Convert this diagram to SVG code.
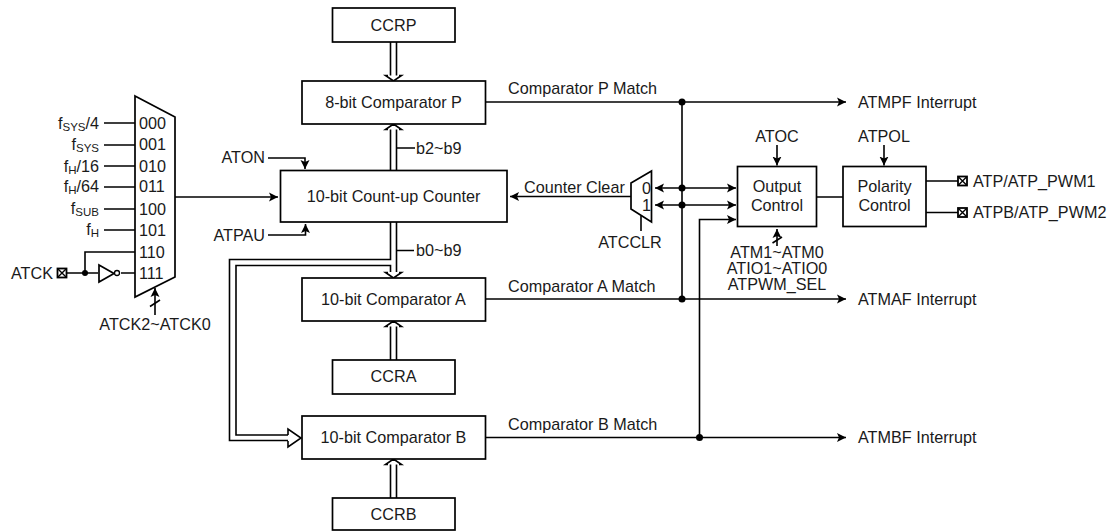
<svg xmlns="http://www.w3.org/2000/svg" width="1112" height="531" viewBox="0 0 1112 531">
<style>
text{font-family:"Liberation Sans",Arial,sans-serif;font-size:16.2px;fill:#1a1a1a}
.m{text-anchor:middle}
.r{text-anchor:end}
.b{fill:#fff;stroke:#000;stroke-width:1.7}
.l{fill:none;stroke:#000;stroke-width:1.6}
.s{font-size:11.5px}
.h{fill:#fff;stroke:#000;stroke-width:1.6}
</style>
<defs>
<marker id="a" markerUnits="userSpaceOnUse" markerWidth="10" markerHeight="10" refX="9" refY="5" orient="auto"><path d="M0,0.5L9,5L0,9.500L2,5Z" fill="#000"/></marker>
<marker id="s" markerUnits="userSpaceOnUse" markerWidth="10" markerHeight="10" refX="9" refY="5" orient="auto-start-reverse"><path d="M0,0.5L9,5L0,9.500L2,5Z" fill="#000"/></marker>
<g id="pin"><rect x="-4.500" y="-4.500" width="9" height="9" fill="#fff" stroke="#000" stroke-width="1.800"/><path d="M-4,-4L4,4M4,-4L-4,4" stroke="#000" stroke-width="1.400"/></g>
</defs>
<g id="connectors">
<path class="l" d="M104,123H135M104,145H135M104,166H135M104,187H135M104,209H135M104,230H135M85,273V252H135M67,273H98M121,273H135"/>
<path class="l" marker-end="url(#a)" d="M175,197H278"/>
<path class="l" marker-end="url(#a)" d="M268,158H305V169"/>
<path class="l" marker-end="url(#a)" d="M268,235H305.500V224"/>
<path class="l" marker-end="url(#a)" d="M155,315V288"/>
<path class="l" d="M150,306.500L160,300"/>
<path class="l" d="M390.500,42V76M396.500,42V76M390.500,360V326M396.500,360V326M390.500,498V464M396.500,498V464M390.500,170V129M396.500,170V129M396.500,222V272M390.500,222V259.500H229.500V440.500H288M390.500,272V265.500H236V435H288"/>
<path class="h" d="M388,75.500H385.500L393.500,81L401.500,75.500H399" />
<path class="h" d="M388,129.500H385.500L393.500,124L401.500,129.500H399"/>
<path class="h" d="M388,272.500H385.500L393.500,278L401.500,272.500H399"/>
<path class="h" d="M388,326.500H385.500L393.500,321L401.500,326.500H399"/>
<path class="h" d="M388,464.500H385.500L393.500,459L401.500,464.500H399"/>
<path class="h" d="M288,435V429L301,438L288,447V441"/>
<path class="l" d="M397,148H415M397,250.500H414"/>
<path class="l" marker-end="url(#a)" d="M486,102H846"/>
<path class="l" marker-end="url(#a)" d="M486,299H846"/>
<path class="l" marker-end="url(#a)" d="M486,437.500H846"/>
<path class="l" d="M682,102V299"/>
<path class="l" marker-start="url(#s)" marker-end="url(#s)" d="M655,188H736"/>
<path class="l" marker-start="url(#s)" marker-end="url(#s)" d="M655,205H736"/>
<path class="l" marker-end="url(#a)" d="M699.500,437.500V219.500H736"/>
<path class="l" marker-end="url(#a)" d="M631,196.500H510"/>
<path class="l" d="M641,216V231"/>
<path class="l" marker-end="url(#a)" d="M777,145V165.500"/>
<path class="l" marker-end="url(#a)" d="M884,145V165.500"/>
<path class="l" marker-end="url(#a)" d="M777,246V229"/>
<path class="l" d="M772.500,243L782,237"/>
<path class="l" d="M817,197H843M926,181H958M926,212.500H958"/>
<circle cx="85" cy="273" r="3"/>
<circle cx="682" cy="102" r="3.500"/>
<circle cx="682" cy="188" r="3.500"/>
<circle cx="682" cy="205" r="3.500"/>
<circle cx="682" cy="299" r="3.500"/>
<circle cx="699.500" cy="437.500" r="3.500"/>
</g>
<g id="clock-mux">
<path class="b" d="M135,96L175,117V277L135,297Z"/>
<text x="139" y="129">000</text><text x="139" y="150">001</text><text x="139" y="172">010</text><text x="139" y="192">011</text><text x="139" y="215">100</text><text x="139" y="236">101</text><text x="139" y="258">110</text><text x="139" y="279">111</text>
<text x="99" y="129" class="r">f<tspan class="s" dy="2">SYS</tspan><tspan dy="-2">/4</tspan></text>
<text x="99" y="150" class="r">f<tspan class="s" dy="2">SYS</tspan></text>
<text x="99" y="172" class="r">f<tspan class="s" dy="2">H</tspan><tspan dy="-2">/16</tspan></text>
<text x="99" y="192" class="r">f<tspan class="s" dy="2">H</tspan><tspan dy="-2">/64</tspan></text>
<text x="99" y="214" class="r">f<tspan class="s" dy="2">SUB</tspan></text>
<text x="99" y="235" class="r">f<tspan class="s" dy="2">H</tspan></text>
</g>
<g id="atck"><text x="53" y="279" class="r">ATCK</text><use href="#pin" x="62" y="273"/></g>
<g id="inverter"><path class="b" d="M99,265L114,273.500L99,282Z"/><circle cx="117" cy="273" r="2.500" fill="#fff" stroke="#000" stroke-width="1.300"/></g>
<g id="atck-sel"><text x="155" y="330" class="m">ATCK2~ATCK0</text></g>
<g id="aton"><text x="265" y="163" class="r">ATON</text></g>
<g id="atpau"><text x="265" y="241" class="r">ATPAU</text></g>
<g id="ccrp"><rect class="b" x="332.500" y="8" width="122.500" height="34"/><text x="393.500" y="31" class="m">CCRP</text></g>
<g id="comparator-p"><rect class="b" x="302" y="81" width="183.500" height="43"/><text x="393.500" y="108" class="m">8-bit Comparator P</text></g>
<g id="counter"><rect class="b" x="280.500" y="170.500" width="226.500" height="51.500"/><text x="393.500" y="202" class="m">10-bit Count-up Counter</text></g>
<g id="comparator-a"><rect class="b" x="302" y="278" width="183.500" height="43"/><text x="393.500" y="305" class="m">10-bit Comparator A</text></g>
<g id="ccra"><rect class="b" x="332.500" y="360" width="122.500" height="34"/><text x="393.500" y="382" class="m">CCRA</text></g>
<g id="comparator-b"><rect class="b" x="302" y="416" width="183.500" height="43"/><text x="393.500" y="443" class="m">10-bit Comparator B</text></g>
<g id="ccrb"><rect class="b" x="332.500" y="498" width="122.500" height="32"/><text x="393.500" y="520" class="m">CCRB</text></g>
<g id="bus-labels"><text x="416" y="154">b2~b9</text><text x="416" y="256">b0~b9</text></g>
<g id="match-labels"><text x="508" y="94">Comparator P Match</text><text x="508" y="292">Comparator A Match</text><text x="508" y="430">Comparator B Match</text><text x="524" y="193">Counter Clear</text></g>
<g id="clear-mux"><path class="b" d="M631,183L651.500,171V222L631,209Z"/><text x="642" y="194">0</text><text x="642" y="211">1</text><text x="630" y="248" class="m">ATCCLR</text></g>
<g id="output-control"><rect class="b" x="737.500" y="166.500" width="79" height="60"/><text x="777" y="192" class="m">Output</text><text x="777" y="211" class="m">Control</text></g>
<g id="atoc"><text x="777" y="142" class="m">ATOC</text></g>
<g id="output-sel"><text x="777" y="258" class="m">ATM1~ATM0</text><text x="777" y="274" class="m">ATIO1~ATIO0</text><text x="777" y="290" class="m">ATPWM_SEL</text></g>
<g id="polarity-control"><rect class="b" x="843" y="166.500" width="83" height="60"/><text x="884.500" y="192" class="m">Polarity</text><text x="884.500" y="211" class="m">Control</text></g>
<g id="atpol"><text x="884" y="142" class="m">ATPOL</text></g>
<g id="atp"><use href="#pin" x="962.500" y="181"/><text x="973" y="187">ATP/ATP_PWM1</text></g>
<g id="atpb"><use href="#pin" x="962.500" y="212.500"/><text x="973" y="218">ATPB/ATP_PWM2</text></g>
<g id="interrupts"><text x="858" y="108">ATMPF Interrupt</text><text x="858" y="305">ATMAF Interrupt</text><text x="858" y="443">ATMBF Interrupt</text></g>
</svg>
